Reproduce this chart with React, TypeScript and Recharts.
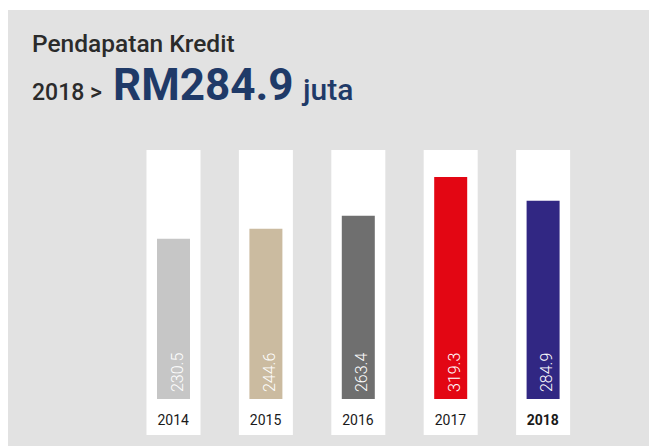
import { BarChart, Bar, XAxis, YAxis, Cell, LabelList } from "recharts";

const years = ["2014", "2015", "2016", "2017", "2018"];
const revenue = [230.5, 244.6, 263.4, 319.3, 284.9];
const barColors = ["#c6c6c6", "#cbbba0", "#6f6f6f", "#e30613", "#312783"];

const data = years.map((year, i) => ({ year, value: revenue[i] }));

const FONT = "Roboto, 'Open Sans', sans-serif";

// white column behind each bar, a bit wider and running down past the year label
const ColumnBackground = (props: any) => {
  const { x, y, width, height } = props;
  return <rect x={x - 10.5} y={y} width={width + 21} height={height + 36} fill="#ffffff" />;
};

const YearTick = (props: any) => {
  const { x, y, payload } = props;
  const isLast = payload.value === years[years.length - 1];
  return (
    <text
      x={x}
      y={y + 18}
      textAnchor="middle"
      fontFamily={FONT}
      fontSize={14}
      fontWeight={isLast ? 700 : 400}
      fill="#1a1a1a"
    >
      {payload.value}
    </text>
  );
};

const ValueLabel = (props: any) => {
  const { x, y, width, height, value } = props;
  const lx = x + width / 2 + 9;
  const ly = y + height - 7;
  return (
    <text
      x={lx}
      y={ly}
      transform={`rotate(-90 ${lx} ${ly})`}
      textAnchor="start"
      fontFamily={FONT}
      fontSize={16}
      fontWeight={300}
      fill="#ffffff"
    >
      {Number(value).toFixed(1)}
    </text>
  );
};

export default function App() {
  return (
    <div
      style={{
        position: "fixed",
        left: 8,
        top: 10,
        right: 0,
        bottom: 0,
        background: "#e2e2e2",
        overflow: "hidden",
      }}
    >
      <svg width={641} height={120} style={{ position: "absolute", left: 0, top: 0 }}>
        <text x={24} y={42} fontFamily={FONT} fontSize={24.5} fontWeight={500} fill="#2b2b2b">
          Pendapatan Kredit
        </text>
        <text x={24} y={90} fontFamily={FONT} fontSize={23} fontWeight={500} fill="#2b2b2b">
          2018 &gt;
        </text>
        <text x={105} y={90} fontFamily={FONT} fontSize={44} fontWeight={700} fill="#1f3a68">
          RM284.9
        </text>
        <text x={295} y={90} fontFamily={FONT} fontSize={30} fontWeight={500} fill="#1f3a68">
          juta
        </text>
      </svg>
      <div style={{ position: "absolute", left: 0, top: 0 }}>
        <BarChart
          width={641}
          height={436}
          data={data}
          margin={{ top: 140, right: 60, bottom: 17, left: 119 }}
        >
          <XAxis
            dataKey="year"
            axisLine={false}
            tickLine={false}
            height={30}
            tick={<YearTick />}
            interval={0}
          />
          <YAxis hide domain={[0, 358]} />
          <Bar
            dataKey="value"
            barSize={33}
            isAnimationActive={false}
            background={<ColumnBackground />}
          >
            {data.map((d, i) => (
              <Cell key={d.year} fill={barColors[i]} />
            ))}
            <LabelList dataKey="value" content={<ValueLabel />} />
          </Bar>
        </BarChart>
      </div>
    </div>
  );
}
